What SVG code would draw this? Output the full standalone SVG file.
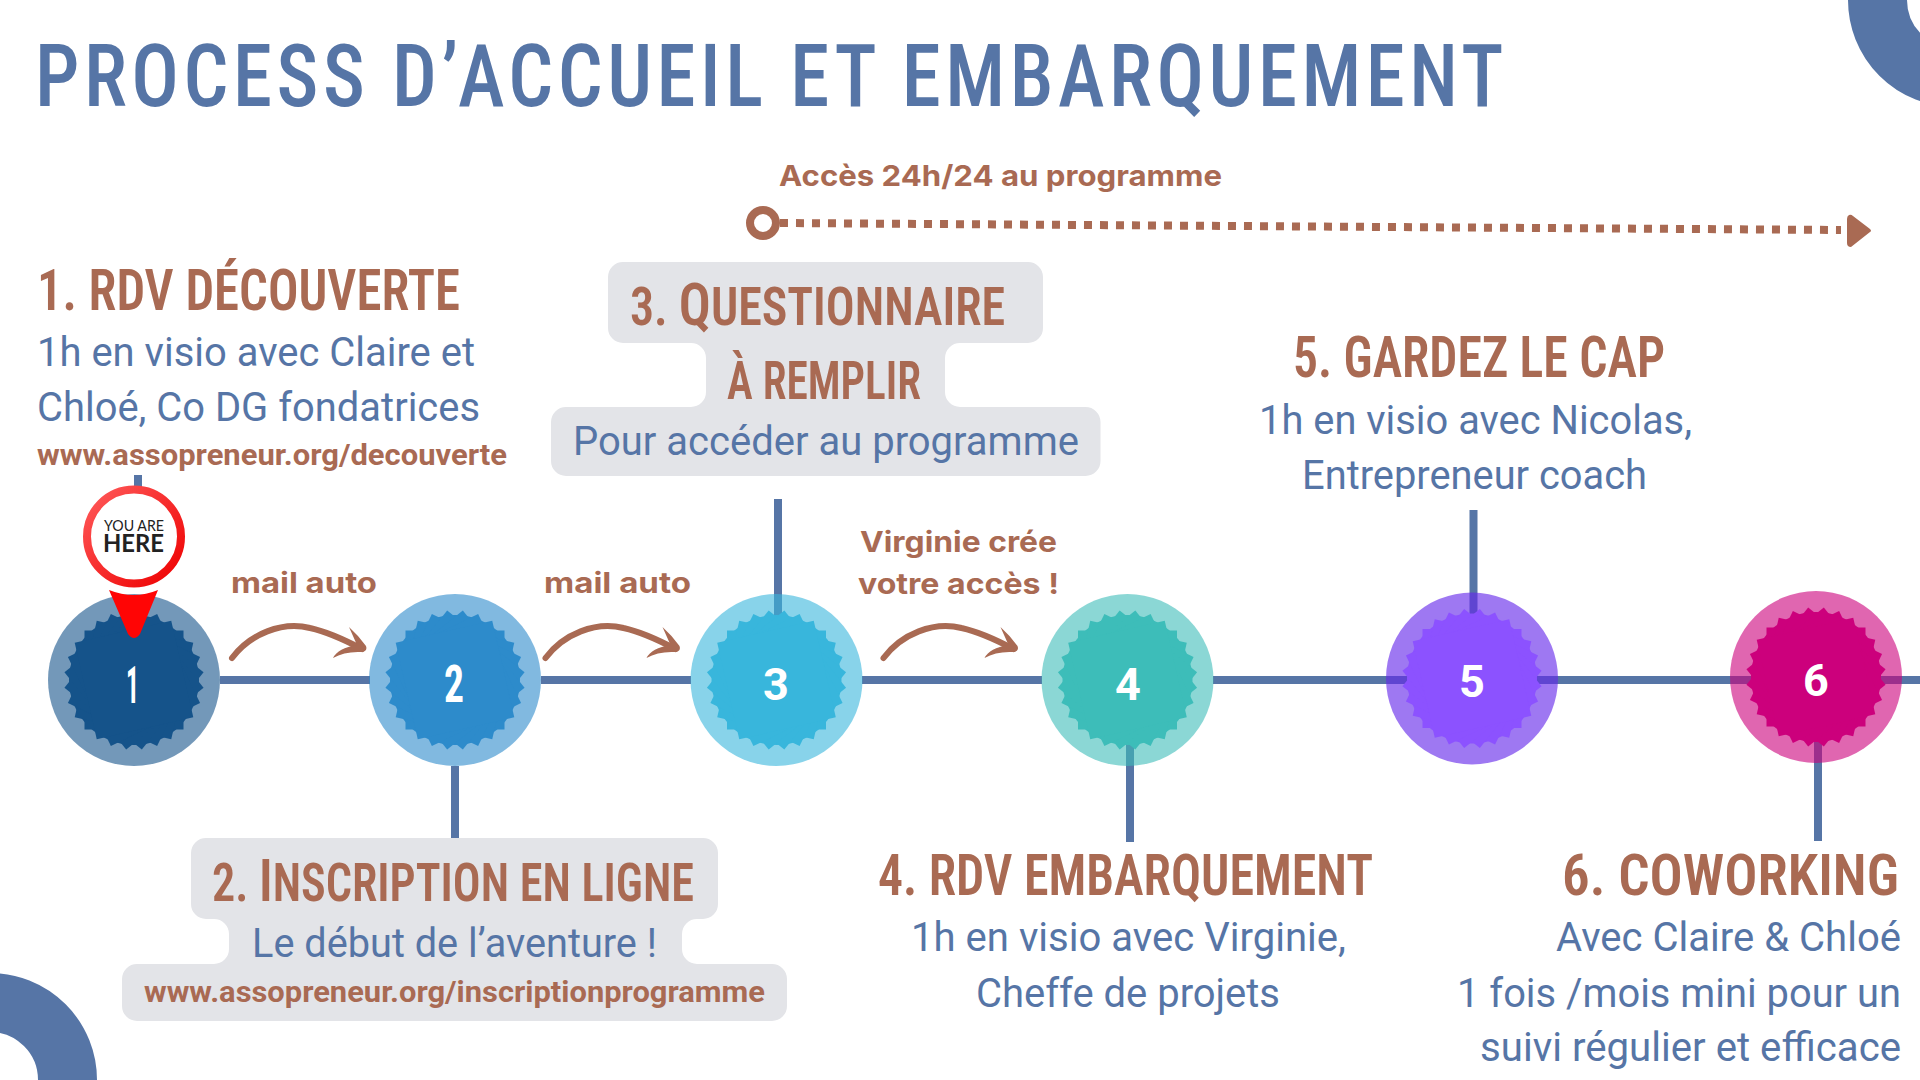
<svg xmlns="http://www.w3.org/2000/svg" width="1920" height="1080" viewBox="0 0 1920 1080">
<style>
text{white-space:pre}
.h{font-family:"Roboto Condensed","Liberation Sans Narrow","Liberation Sans",sans-serif;font-weight:600;fill:#a96a53;font-size:54px}
.hl{font-size:58px}
.b{font-family:Roboto,"Liberation Sans",sans-serif;font-size:40px;fill:#5675a6}
.u{font-family:Roboto,"Liberation Sans",sans-serif;font-weight:700;font-size:29px;fill:#a96a53}
.l{font-family:Inter,Lato,"Liberation Sans",sans-serif;font-weight:700;font-size:29px;fill:#a96a53}
.n{font-family:Roboto,"Liberation Sans",sans-serif;font-weight:700;font-size:45px;fill:#fff;text-anchor:middle}
.nd{font-family:"Roboto Condensed","Liberation Sans Narrow","Liberation Sans",sans-serif;font-weight:700;font-size:51px;fill:#fff}
.line{fill:none;stroke:#5675a6;stroke-width:8}
.grey{fill:#e3e4e8}
.arrow{fill:#a96a53}
.pin{font-family:Lato,"Liberation Sans",sans-serif;fill:#222}
</style>
<defs>
<g id="burst">
<circle r="65"/>
<rect x="-49.500" y="-49.500" width="99" height="99"/>
<rect x="-49.500" y="-49.500" width="99" height="99" transform="rotate(12.857)"/>
<rect x="-49.500" y="-49.500" width="99" height="99" transform="rotate(25.714)"/>
<rect x="-49.500" y="-49.500" width="99" height="99" transform="rotate(38.571)"/>
<rect x="-49.500" y="-49.500" width="99" height="99" transform="rotate(51.429)"/>
<rect x="-49.500" y="-49.500" width="99" height="99" transform="rotate(64.286)"/>
<rect x="-49.500" y="-49.500" width="99" height="99" transform="rotate(77.143)"/>
</g>
<g id="curved">
<path d="M232 658C250 634 282 621 310 628C328 632 345 640 362 649" fill="none" stroke="#a96a53" stroke-width="6" stroke-linecap="round"/>
<path class="arrow" d="M349 627Q359 636 366 646Q368 651 362 652Q345 651 333 658Q338 648 357 645Q353 636 349 627Z"/>
</g>
<linearGradient id="pin" x1="0" y1="0" x2="1" y2="1"><stop offset="0" stop-color="#ff5a5a"/><stop offset="1" stop-color="#ee0000"/></linearGradient>
</defs>
<rect width="1920" height="1080" fill="#fff"/>

<g id="decor">
<circle cx="1955" cy="0" r="77.500" fill="none" stroke="#5675a6" stroke-width="59"/>
<circle cx="-10" cy="1080" r="77.500" fill="none" stroke="#5675a6" stroke-width="59"/>
</g>

<text id="title" x="35" y="106" textLength="1473" lengthAdjust="spacingAndGlyphs" style="font-family:'Roboto Condensed','Liberation Sans Narrow','Liberation Sans',sans-serif;font-weight:500;font-size:88px;fill:#5675a6;letter-spacing:5px">PROCESS D’ACCUEIL ET EMBARQUEMENT</text>

<g id="connectors">
<path class="line" d="M220 680H370M541 680H691M862 680H1042M1213 680H1920"/>
<path class="line" d="M138 475V500M455 766V838M778 499V625M1130 740V842M1473.500 510V620M1818 730V841"/>
<g id="access-arrow">
<path d="M780 223L1841 230" fill="none" stroke="#a96a53" stroke-width="8" stroke-dasharray="8 8"/>
<circle cx="763" cy="223" r="13" fill="#fff" stroke="#a96a53" stroke-width="8"/>
<path class="arrow" d="M1849 215Q1847 216 1847 219V243Q1847 247 1851 247L1870 232Q1872 231 1870 229L1853 216Q1851 214 1849 215Z"/>
</g>
<use href="#curved"/>
<use href="#curved" x="313.500"/>
<use href="#curved" x="651.500"/>
</g>

<g id="node-1">
<circle cx="134" cy="680" r="86" fill="#15538a" fill-opacity=".6"/>
<use href="#burst" transform="translate(134 680)" fill="#15538a"/>
<text class="nd" x="126" y="703" textLength="13" lengthAdjust="spacingAndGlyphs">1</text>
<text class="h hl" x="37" y="310" textLength="423" lengthAdjust="spacingAndGlyphs">1. RDV DÉCOUVERTE</text>
<text class="b" x="37" y="366" textLength="438" lengthAdjust="spacingAndGlyphs">1h en visio avec Claire et</text>
<text class="b" x="37" y="421" textLength="443" lengthAdjust="spacingAndGlyphs">Chloé, Co DG fondatrices</text>
<text class="u" x="37" y="465" textLength="470" lengthAdjust="spacingAndGlyphs">www.assopreneur.org/decouverte</text>
</g>

<g id="you-are-here">
<path d="M109 590Q134 600 158 590L140 634Q134 642 128 634Z" fill="#ff0505"/>
<circle cx="134" cy="536.500" r="47" fill="#fff" stroke="url(#pin)" stroke-width="8"/>
<text class="pin" x="104" y="531" textLength="60" lengthAdjust="spacingAndGlyphs" font-size="15.500">YOU ARE</text>
<text class="pin" x="103" y="552" textLength="61" lengthAdjust="spacingAndGlyphs" font-size="24" font-weight="700">HERE</text>
</g>

<g id="node-2">
<circle cx="455" cy="680" r="86" fill="#2d8bcb" fill-opacity=".6"/>
<use href="#burst" transform="translate(455 680)" fill="#2d8bcb"/>
<text class="nd" x="444" y="702" textLength="20" lengthAdjust="spacingAndGlyphs">2</text>
<path class="grey" d="M206 838H703A15 15 0 0 1 718 853V904A15 15 0 0 1 703 919H697A15 15 0 0 0 682 934V949A15 15 0 0 0 697 964H772A15 15 0 0 1 787 979V1006A15 15 0 0 1 772 1021H137A15 15 0 0 1 122 1006V979A15 15 0 0 1 137 964H214A15 15 0 0 0 229 949V934A15 15 0 0 0 214 919H206A15 15 0 0 1 191 904V853A15 15 0 0 1 206 838Z"/>
<text class="h" x="212" y="901" textLength="482" lengthAdjust="spacingAndGlyphs">2. <tspan font-size="60">I</tspan>NSCRIPTION EN LIGNE</text>
<text class="b" x="252" y="957" textLength="405" lengthAdjust="spacingAndGlyphs">Le début de l’aventure !</text>
<text class="u" x="144" y="1002" textLength="621" lengthAdjust="spacingAndGlyphs">www.assopreneur.org/inscriptionprogramme</text>
</g>

<g id="node-3">
<circle cx="776.500" cy="680" r="86" fill="#38b6dc" fill-opacity=".6"/>
<use href="#burst" transform="translate(776.500 680)" fill="#38b6dc"/>
<text class="n" x="776" y="700">3</text>
<path class="grey" d="M623 262H1028A15 15 0 0 1 1043 277V328A15 15 0 0 1 1028 343H960A15 15 0 0 0 945 358V392A15 15 0 0 0 960 407H1085.500A15 15 0 0 1 1100.500 422V461A15 15 0 0 1 1085.500 476H566A15 15 0 0 1 551 461V422A15 15 0 0 1 566 407H691A15 15 0 0 0 706 392V358A15 15 0 0 0 691 343H623A15 15 0 0 1 608 328V277A15 15 0 0 1 623 262Z"/>
<text class="h" x="630" y="325" textLength="375" lengthAdjust="spacingAndGlyphs">3. <tspan font-size="60">Q</tspan>UESTIONNAIRE</text>
<text class="h" x="727" y="399" textLength="194" lengthAdjust="spacingAndGlyphs">À REMPLIR</text>
<text class="b" x="573" y="455" textLength="506" lengthAdjust="spacingAndGlyphs">Pour accéder au programme</text>
</g>

<g id="node-4">
<circle cx="1127.500" cy="680" r="86" fill="#3dbdb9" fill-opacity=".6"/>
<use href="#burst" transform="translate(1127.500 680)" fill="#3dbdb9"/>
<text class="n" x="1128" y="700">4</text>
<text class="h hl" x="878" y="895" textLength="495" lengthAdjust="spacingAndGlyphs">4. RDV EMBARQUEMENT</text>
<text class="b" x="911" y="951" textLength="435" lengthAdjust="spacingAndGlyphs">1h en visio avec Virginie,</text>
<text class="b" x="976" y="1007" textLength="304" lengthAdjust="spacingAndGlyphs">Cheffe de projets</text>
</g>

<g id="node-5">
<circle cx="1472" cy="678.500" r="86" fill="#6529eb" fill-opacity=".63"/>
<use href="#burst" transform="translate(1472 678.500)" fill="#8c52ff"/>
<text class="n" x="1472" y="697">5</text>
<text class="h hl" x="1293" y="377" textLength="372" lengthAdjust="spacingAndGlyphs">5. GARDEZ LE CAP</text>
<text class="b" x="1259" y="434" textLength="433" lengthAdjust="spacingAndGlyphs">1h en visio avec Nicolas,</text>
<text class="b" x="1302" y="489" textLength="345" lengthAdjust="spacingAndGlyphs">Entrepreneur coach</text>
</g>

<g id="node-6">
<circle cx="1816" cy="677" r="86" fill="#cc007c" fill-opacity=".6"/>
<use href="#burst" transform="translate(1816 677)" fill="#cc007c"/>
<text class="n" x="1816" y="696">6</text>
<text class="h hl" x="1562" y="895" textLength="337" lengthAdjust="spacingAndGlyphs">6. COWORKING</text>
<text class="b" x="1556" y="951" textLength="345" lengthAdjust="spacingAndGlyphs">Avec Claire &amp; Chloé</text>
<text class="b" x="1457" y="1007" textLength="444" lengthAdjust="spacingAndGlyphs">1 fois /mois mini pour un</text>
<text class="b" x="1480" y="1061" textLength="421" lengthAdjust="spacingAndGlyphs">suivi régulier et efficace</text>
</g>

<g id="labels">
<text class="l" x="779" y="186" textLength="443" lengthAdjust="spacingAndGlyphs">Accès 24h/24 au programme</text>
<text class="l" x="231" y="593" textLength="146" lengthAdjust="spacingAndGlyphs">mail auto</text>
<text class="l" x="544" y="593" textLength="147" lengthAdjust="spacingAndGlyphs">mail auto</text>
<text class="l" x="860" y="552" textLength="197" lengthAdjust="spacingAndGlyphs">Virginie crée</text>
<text class="l" x="858" y="594" textLength="201" lengthAdjust="spacingAndGlyphs">votre accès !</text>
</g>
</svg>
